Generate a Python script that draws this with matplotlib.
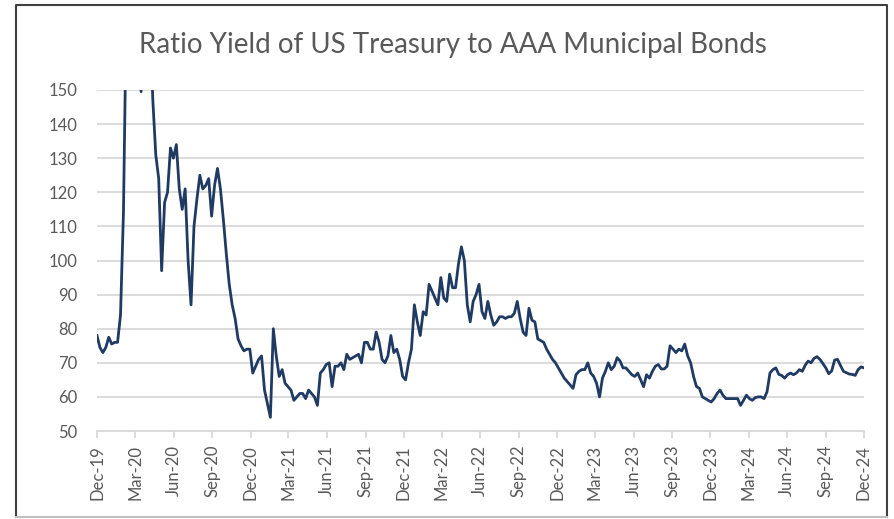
import numpy as np
import pandas as pd
import matplotlib
matplotlib.use("Agg")
import matplotlib.pyplot as plt
import matplotlib.dates as mdates
from matplotlib.lines import Line2D

# weekly ratio (%) of US Treasury yield to AAA muni yield
start_date = "2019-12-01"
ratio = [
    78, 74.5, 73, 74.5, 77.5, 75.5, 76, 76, 84, 114,
    175, 230, 260, 220, 175, 149.5, 185, 200, 170, 147,
    131, 124, 97, 117, 120, 133, 130, 134, 121, 115,
    121, 100, 87, 110, 118, 125, 121, 122, 124, 113,
    122, 127, 121, 112, 102, 93, 87, 83, 77, 75,
    73.5, 74, 74, 67, 69, 71, 72, 62, 58, 54,
    80, 72, 66, 68, 64, 63, 62, 59, 60, 61,
    61, 59.5, 62, 61, 60, 57.5, 67, 68, 69.5, 70,
    63, 69, 69, 70, 68, 72.5, 71, 71.5, 72, 72.5,
    70, 76, 76, 74, 74, 79, 76, 71, 70, 72,
    78, 73, 74, 71, 66, 65, 70, 74, 87, 82,
    78, 85, 84, 93, 91, 89, 87, 95, 89, 88,
    96, 92, 92, 99, 104, 100, 87, 82, 88, 90,
    93, 85, 83, 88, 84, 81, 82, 83.5, 83.5, 83,
    83.5, 83.5, 84.5, 88, 83, 79, 78, 86, 82.5, 82,
    77, 76.5, 76, 74, 72.5, 71, 70, 68.5, 67, 65.5,
    64.5, 63.5, 62.5, 66.5, 67.5, 68, 68, 70, 67, 66,
    64, 60, 65.5, 67.5, 70, 68, 69, 71.5, 70.5, 68.5,
    68.5, 67.5, 66.5, 66, 67, 65, 63, 66.5, 65.5, 67.5,
    69, 69.5, 68.2, 68.2, 69, 75, 74, 73, 74, 73.5,
    75.5, 72, 70, 66, 63, 62.5, 60, 59.5, 59, 58.5,
    59.5, 61, 62, 60.5, 59.5, 59.5, 59.5, 59.5, 59.5, 57.5,
    59, 60.5, 59.5, 59, 59.8, 60, 60, 59.5, 61.5, 67,
    68, 68.5, 66.6, 66.3, 65.5, 66.5, 67, 66.5, 67, 68,
    67.5, 69.3, 70.5, 70, 71.3, 71.8, 71, 69.8, 68.5, 66.8,
    67.6, 70.8, 71, 69.2, 67.5, 67.1, 66.7, 66.6, 66.3, 68,
    68.8, 68.5,
]
dates = pd.date_range(start_date, periods=len(ratio), freq="7D")

title = "Ratio Yield of US Treasury to AAA Municipal Bonds"
y_ticks = list(range(50, 151, 10))

plt.rcParams["font.family"] = ["Lato", "DejaVu Sans"]
grey_txt = "#595959"
grid_col = "#D9D9D9"

fig = plt.figure(figsize=(8.95, 5.19), dpi=100)
ax = fig.add_axes([97 / 895, 1 - 431 / 519, (864 - 97) / 895, (431 - 90) / 519])

ax.plot(dates, ratio, color="#1F3A63", lw=2.0, solid_joinstyle="round")

ax.set_ylim(50, 150)
ax.set_yticks(y_ticks)
ax.set_xlim(dates[0], dates[-1])
ax.xaxis.set_major_locator(mdates.MonthLocator(bymonth=[3, 6, 9, 12]))
ax.xaxis.set_major_formatter(mdates.DateFormatter("%b-%y"))

ax.grid(axis="y", color=grid_col, lw=1.3)
ax.set_axisbelow(True)
for side in ["top", "right", "left"]:
    ax.spines[side].set_visible(False)
ax.spines["bottom"].set_color(grid_col)
ax.spines["bottom"].set_linewidth(1.3)
ax.tick_params(axis="y", length=0, pad=14, labelsize=12, labelcolor=grey_txt)
ax.tick_params(axis="x", length=5, width=1.3, color=grid_col, pad=5,
               labelsize=12, labelcolor=grey_txt, labelrotation=90)

fig.text(453 / 895, 1 - 45 / 519, title, ha="center", va="center",
         fontsize=20, color=grey_txt)

# chart frame
x0, x1 = 16 / 895, 887 / 895
y0, y1 = 1 - 517 / 519, 1 - 5 / 519
fig.add_artist(Line2D([x0, x0, x1, x1], [y0, y1, y1, y0], color="#404040", lw=1.5))
fig.add_artist(Line2D([x0, x1], [y0, y0], color="#BFBFBF", lw=1.5))

fig.savefig("out.png", dpi=100)
